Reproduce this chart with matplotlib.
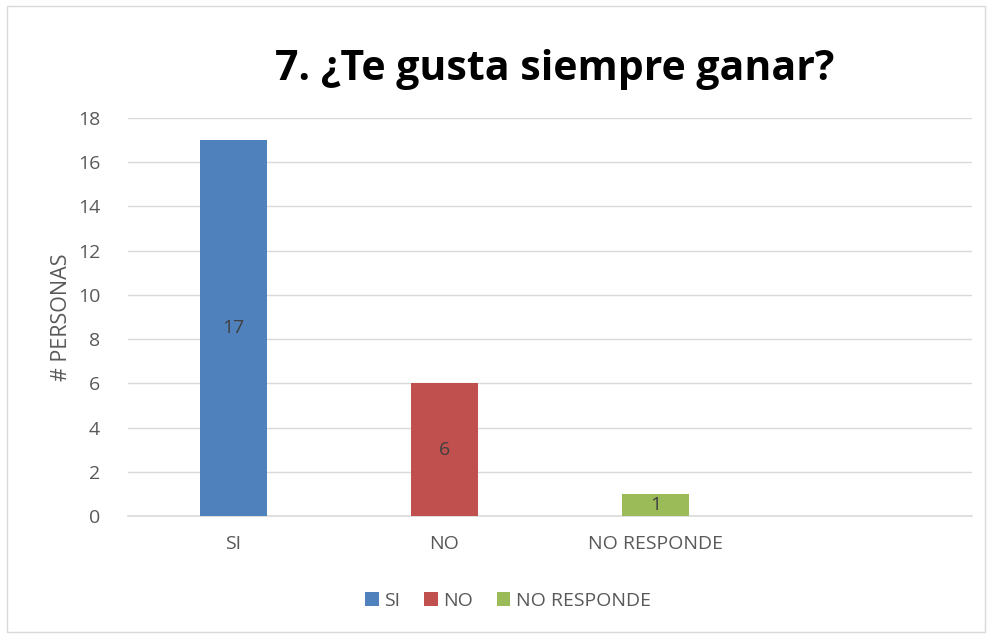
import matplotlib
matplotlib.use("Agg")
import matplotlib.pyplot as plt
from matplotlib.patches import Rectangle, Patch

categories = ["SI", "NO", "NO RESPONDE"]
values = [17, 6, 1]
colors = ["#4F81BD", "#C0504D", "#9BBB59"]
yticks = [0, 2, 4, 6, 8, 10, 12, 14, 16, 18]
title = "7. ¿Te gusta siempre ganar?"
ylabel = "# PERSONAS"

plt.rcParams['font.family'] = ['Open Sans', 'DejaVu Sans']

fig = plt.figure(figsize=(9.88, 6.35), dpi=100)
ax = fig.add_axes([128/988, 1-516/635, (972-128)/988, (516-118)/635])

x = list(range(len(categories)))
bars = ax.bar(x, values, width=0.317, color=colors, zorder=3)
for xi, v in zip(x, values):
    ax.text(xi, v/2, str(v), ha='center', va='center', fontsize=14, color='#404040', zorder=4)

ax.set_xlim(-0.5, 3.5)
ax.set_ylim(0, 18)
ax.set_yticks(yticks)
ax.set_yticklabels([str(t) for t in yticks], fontsize=14, color='#595959')
ax.set_xticks(x)
ax.set_xticklabels(categories, fontsize=14, color='#595959')
ax.tick_params(axis='both', length=0)
ax.tick_params(axis='x', pad=14)
ax.tick_params(axis='y', pad=20)
ax.grid(axis='y', color='#D9D9D9', linewidth=1, zorder=0)
for s in ['top', 'right', 'left']:
    ax.spines[s].set_visible(False)
ax.spines['bottom'].set_color('#D9D9D9')
ax.spines['bottom'].set_linewidth(1.2)
ax.set_ylabel(ylabel, fontsize=15.5, color='#595959', labelpad=4)

fig.text(555/988, 1-70/635, title, ha='center', va='center', fontsize=29.5, fontweight='bold', color='black')

handles = [Patch(facecolor=c) for c in colors]
fig.legend(handles, categories, loc='center', bbox_to_anchor=(508/988, 1-601/635), ncol=3,
           frameon=False, fontsize=14, labelcolor='#595959', handlelength=0.7, handleheight=0.7,
           handletextpad=0.3, columnspacing=1.2)

fig.patches.append(Rectangle((7/988, 3/635), 978/988, 626/635, transform=fig.transFigure,
                             fill=False, edgecolor='#D9D9D9', linewidth=1))

fig.savefig("out.png", dpi=100)
